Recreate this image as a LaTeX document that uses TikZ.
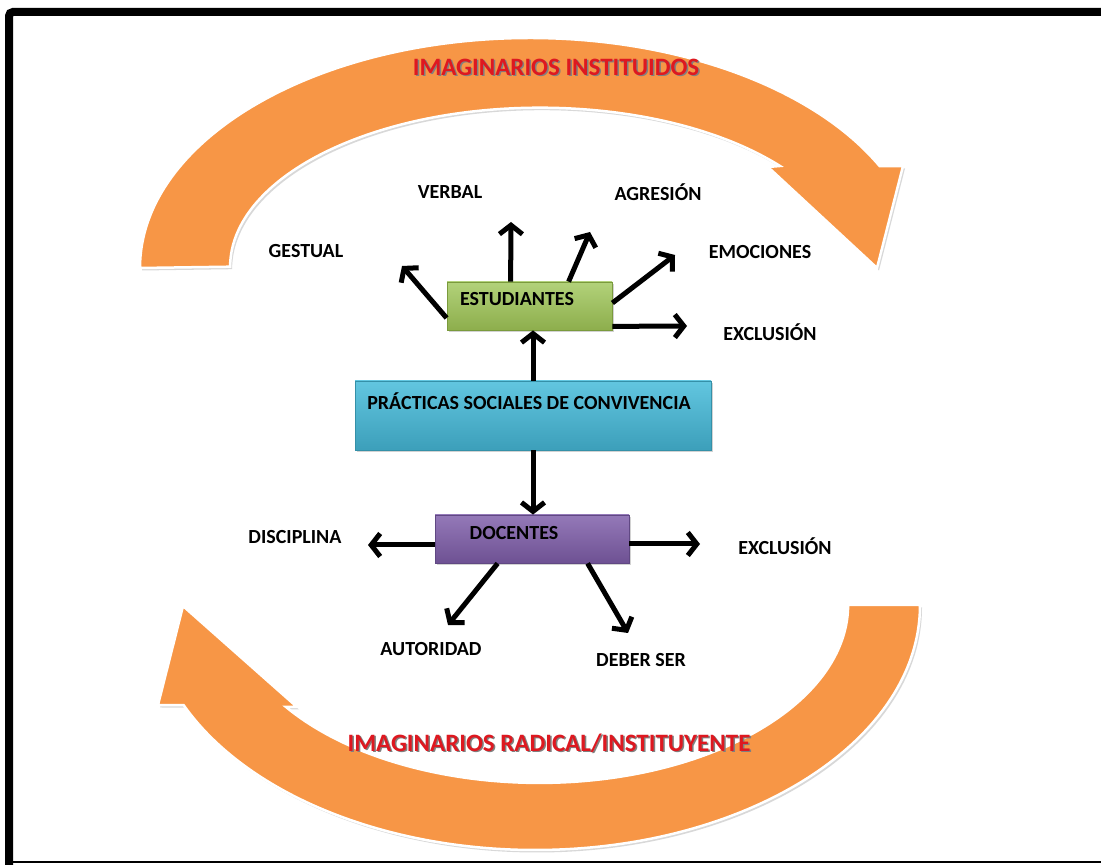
\documentclass[tikz,border=0pt]{standalone}
\usepackage{fontspec}
\setmainfont{Carlito}
\usetikzlibrary{arrows.meta,shadows}
\definecolor{orangeA}{HTML}{F79646}
\definecolor{redT}{RGB}{222,24,32}
\definecolor{greenT}{HTML}{B2D27A}
\definecolor{greenB}{HTML}{8DAE4C}
\definecolor{greenD}{HTML}{7A9A3C}
\definecolor{blueT}{HTML}{62C6E0}
\definecolor{blueB}{HTML}{3C9FBA}
\definecolor{blueD}{HTML}{3590A8}
\definecolor{purpT}{HTML}{9479B8}
\definecolor{purpB}{HTML}{6E5193}
\definecolor{purpD}{HTML}{604883}
\begin{document}
\begin{tikzpicture}[x=1pt,y=1pt,
  lab/.style={font=\fontsize{20}{23}\selectfont\bfseries, inner sep=0pt},
  title/.style={font=\fontsize{25}{28}\selectfont\bfseries, inner sep=0pt, text=redT},
  tshadow/.style={font=\fontsize{25}{28}\selectfont\bfseries, inner sep=0pt, text=black!50},
  conn/.style={line width=5pt, -{Straight Barb[length=9pt,width=23pt]}},
  band/.style={fill=orangeA, draw=white, line width=2.5pt, line join=miter,
    drop shadow={shadow xshift=2pt,shadow yshift=-2.5pt,opacity=.3}},
  boxbase/.style={rectangle, inner sep=0pt, line width=.8pt,
    drop shadow={shadow xshift=2pt,shadow yshift=-2.5pt,opacity=.35}},
]
\useasboundingbox (0,0) rectangle (1101,865);
\fill[white] (0,0) rectangle (1101,865);
% frame
\draw[line width=8pt, rounded corners=4pt] (9,-5) -- (9,853) -- (1110,853);
\draw[line width=2pt] (5,3) -- (1110,3);
% top curved arrow
\path[band] (140,597) arc[start angle=180, end angle=26.3, x radius=390, y radius=230]
  -- (903,699) -- (877,597) -- (768,698) -- (780,699)
  arc[start angle=39.3, end angle=180, x radius=310, y radius=159] -- cycle;
% bottom curved arrow
\path[band] (920,260) arc[start angle=0, end angle=-155.9, x radius=385, y radius=245]
  -- (158,160) -- (183,259) -- (297,158) -- (286,158)
  arc[start angle=-145, end angle=0, x radius=309, y radius=178] -- cycle;
% titles
\node[tshadow] (t1s) at (557.5,796.5) {IMAGINARIOS INSTITUIDOS};
\node[title] (t1) at (556,798) {IMAGINARIOS INSTITUIDOS};
\node[tshadow] (t2s) at (550.5,120.5) {IMAGINARIOS RADICAL/INSTITUYENTE};
\node[title] (t2) at (549,122) {IMAGINARIOS RADICAL/INSTITUYENTE};
% boxes
\node[boxbase, minimum width=165pt, minimum height=48pt, top color=greenT, bottom color=greenB, draw=greenD] (stud) at (529.5,559) {};
\node[boxbase, minimum width=356pt, minimum height=69pt, top color=blueT, bottom color=blueB, draw=blueD] (prac) at (533,449.5) {};
\node[boxbase, minimum width=194pt, minimum height=48pt, top color=purpT, bottom color=purpB, draw=purpD] (doc) at (532,326) {};
\node[lab] (studt) at (517,566) {ESTUDIANTES};
\node[lab] (pract) at (529,464) {PRÁCTICAS SOCIALES DE CONVIVENCIA};
\node[lab] (doct) at (514,332) {DOCENTES};
% labels
\node[lab] (verbal) at (450,673) {VERBAL};
\node[lab] (agres) at (658,673) {AGRESIÓN};
\node[lab] (gest) at (306,614) {GESTUAL};
\node[lab] (emoc) at (760,613) {EMOCIONES};
\node[lab] (excl1) at (770,533) {EXCLUSIÓN};
\node[lab] (disc) at (295,328) {DISCIPLINA};
\node[lab] (excl2) at (785,319) {EXCLUSIÓN};
\node[lab] (auto) at (431,216) {AUTORIDAD};
\node[lab] (deber) at (641,205) {DEBER SER};
% arrow ends
\coordinate (eGest) at (402,599);
\coordinate (eVerb) at (511,643);
\coordinate (eAgr) at (590,633);
\coordinate (eEmo) at (675,610);
\coordinate (eEx1) at (687,539);
\coordinate (eDis) at (368,320);
\coordinate (eEx2) at (700,321);
\coordinate (eAut) at (448,240);
\coordinate (eDeb) at (628,232);
% connectors
\draw[conn] (prac.north) -- (prac.north |- stud.south);
\draw[conn] (prac.south) -- (prac.south |- doc.north);
\draw[conn] ([yshift=-12pt]stud.west) -- (eGest);
\draw[conn] ([xshift=64pt]stud.north west) -- (eVerb);
\draw[conn] ([xshift=122pt]stud.north west) -- (eAgr);
\draw[conn] ([yshift=3pt]stud.east) -- (eEmo);
\draw[conn] ([yshift=4pt]stud.south east) -- (eEx1);
\draw[conn] ([yshift=-6pt]doc.west) -- (eDis);
\draw[conn] ([yshift=-5pt]doc.east) -- (eEx2);
\draw[conn] ([xshift=63pt]doc.south west) -- (eAut);
\draw[conn] ([xshift=153pt]doc.south west) -- (eDeb);
\end{tikzpicture}
\end{document}
